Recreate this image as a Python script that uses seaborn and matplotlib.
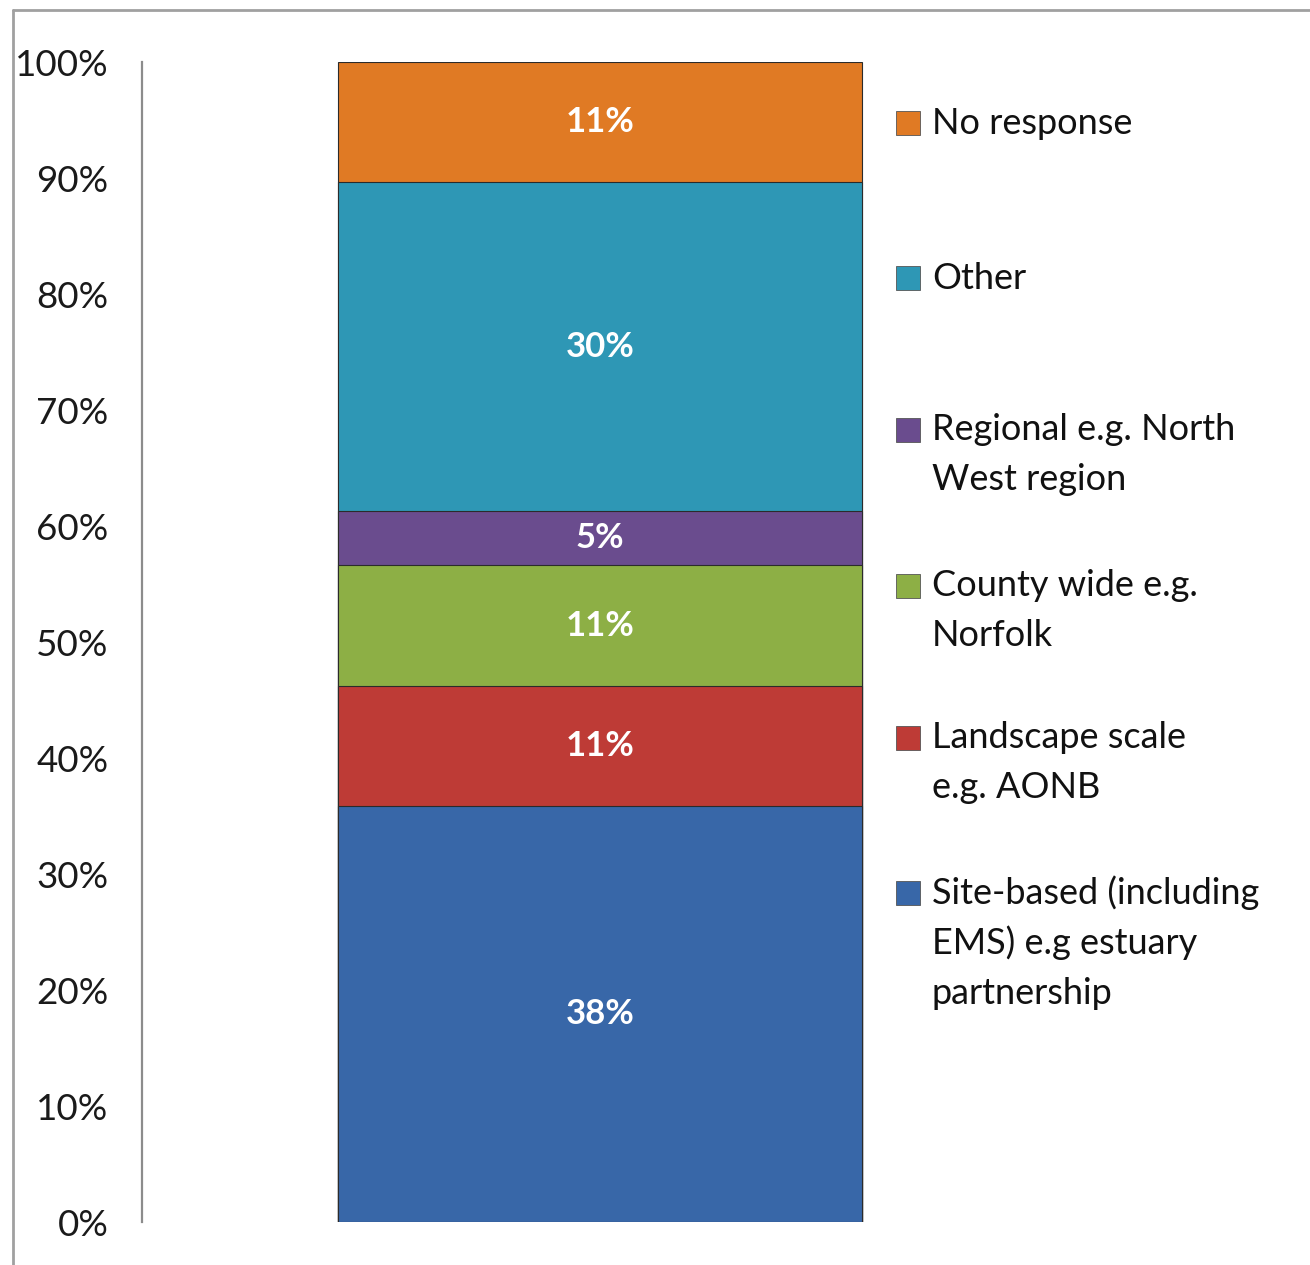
import numpy as np
import pandas as pd
import seaborn as sns
import matplotlib.pyplot as plt
from matplotlib.lines import Line2D
from matplotlib.patches import Rectangle
from matplotlib.ticker import PercentFormatter

# segments bottom -> top, labels show raw percentages (they sum to 106, bar is normalised to 100%)
categories = ['Site-based (including\nEMS) e.g estuary\npartnership',
              'Landscape scale\ne.g. AONB',
              'County wide e.g.\nNorfolk',
              'Regional e.g. North\nWest region',
              'Other',
              'No response']
values = [38, 11, 11, 5, 30, 11]
colors = ['#3867A8', '#BE3B36', '#8DAF45', '#6A4C8E', '#2E97B5', '#E07A24']
legend_y = [893, 738, 586, 430, 278, 123]  # first-line centres, px from top

sns.set_theme(style='white')
plt.rcParams['font.family'] = ['Lato', 'DejaVu Sans']

df = pd.DataFrame({'cat': categories, 'value': values, 'color': colors})
df['share'] = df['value'] / df['value'].sum() * 100
df['top'] = df['share'].cumsum()
df['mid'] = df['top'] - df['share'] / 2
df['x'] = ''

W, H = 1310, 1265
fig = plt.figure(figsize=(W / 100, H / 100), dpi=100)
ax = fig.add_axes([142 / W, 43 / H, (1058 - 142) / W, (1222 - 62) / H])

# overlay cumulative bars, tallest first
for i in reversed(range(len(df))):
    row = df.iloc[[i]]
    sns.barplot(data=row, x='x', y='top', color=row['color'].iloc[0], width=0.572,
                saturation=1, edgecolor='#2b2b2b', linewidth=0.8, ax=ax)

for _, r in df.iterrows():
    ax.text(0, r['mid'], f"{r['value']}%", ha='center', va='center',
            color='white', fontsize=25, fontweight='bold')

ax.set_xlim(-0.5, 0.5)
ax.set_ylim(0, 100)
ax.set_yticks(np.arange(0, 101, 10))
ax.yaxis.set_major_formatter(PercentFormatter(decimals=0))
ax.tick_params(axis='y', length=0, pad=24, labelsize=26.5, labelcolor='#1a1a1a')
ax.tick_params(axis='x', length=0, labelbottom=False)
ax.set_xlabel('')
ax.set_ylabel('')
for s in ['top', 'right', 'bottom']:
    ax.spines[s].set_visible(False)
ax.spines['left'].set_color('#8c8c8c')
ax.spines['left'].set_linewidth(1.6)

# legend drawn by hand so the markers line up with the first text line
for cat, col, y in zip(categories, colors, legend_y):
    fig.add_artist(Rectangle((896 / W, 1 - (y + 12) / H), 24 / W, 24 / H,
                             transform=fig.transFigure, facecolor=col,
                             edgecolor='#555555', linewidth=0.6))
    for j, line in enumerate(cat.split('\n')):
        fig.text(932 / W, 1 - (y + j * 50) / H, line, ha='left', va='center',
                 fontsize=26, color='#111111')

# outer frame (top and left only)
fig.add_artist(Line2D([13 / W, 1], [1 - 10 / H, 1 - 10 / H], color='#a0a0a0', lw=2))
fig.add_artist(Line2D([13 / W, 13 / W], [0, 1 - 10 / H], color='#a0a0a0', lw=2))

fig.savefig('out.png', dpi=100)
